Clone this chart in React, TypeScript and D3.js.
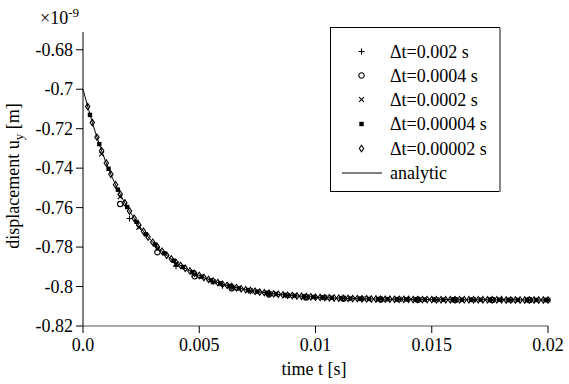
import React, { useEffect, useRef } from "react";
import * as d3 from "d3";

const xTicks = [0, 0.005, 0.01, 0.015, 0.02];
const xTickLabels = ["0.0", "0.005", "0.01", "0.015", "0.02"];
const yTicks = [-0.68, -0.7, -0.72, -0.74, -0.76, -0.78, -0.8, -0.82];
const yTickLabels = ["-0.68", "-0.7", "-0.72", "-0.74", "-0.76", "-0.78", "-0.8", "-0.82"];

// analytic solution (units of 1e-9 m), sampled every 0.0005 s
const analyticStart = 0;
const analyticStep = 0.0005;
const analyticValues = [
  -0.7, -0.7207, -0.7374, -0.7509, -0.7617, -0.7705, -0.7775, -0.7832, -0.7878, -0.7915,
  -0.7944, -0.7968, -0.7988, -0.8003, -0.8016, -0.8026, -0.8034, -0.8041, -0.8046, -0.805,
  -0.8054, -0.8057, -0.8059, -0.8061, -0.8062, -0.8063, -0.8064, -0.8065, -0.8065, -0.8066,
  -0.8066, -0.8066, -0.8067, -0.8067, -0.8067, -0.8067, -0.8067, -0.8067, -0.8068, -0.8068,
  -0.8068,
];

const plusStart = 0.002;
const plusStep = 0.002;
const plusValues = [-0.7655, -0.7897, -0.7996, -0.8038, -0.8056, -0.8063, -0.8066, -0.8067, -0.8067, -0.8068];

const circleStart = 0.0016;
const circleStep = 0.0016;
const circleValues = [-0.7582, -0.7826, -0.7948, -0.8009, -0.804, -0.8055, -0.8062, -0.8066, -0.8067, -0.8068, -0.8068, -0.8068];

const crossStart = 0.0008;
const crossStep = 0.0008;
const crossValues = [
  -0.7328, -0.7545, -0.77, -0.7808, -0.7885, -0.7938, -0.7976, -0.8003, -0.8022, -0.8036,
  -0.8045, -0.8052, -0.8057, -0.806, -0.8062, -0.8064, -0.8065, -0.8066, -0.8067, -0.8067,
  -0.8067, -0.8067, -0.8068, -0.8068, -0.8068,
];

const squareStart = 0.0003;
const squareStep = 0.0004;
const squareValues = [
  -0.713, -0.7278, -0.7403, -0.7509, -0.7597, -0.7672, -0.7735, -0.7787, -0.7832, -0.7869,
  -0.7901, -0.7927, -0.795, -0.7968, -0.7984, -0.7997, -0.8009, -0.8018, -0.8026, -0.8032,
  -0.8038, -0.8043, -0.8047, -0.805, -0.8053, -0.8055, -0.8057, -0.8059, -0.8061, -0.8062,
  -0.8063, -0.8064, -0.8064, -0.8065, -0.8065, -0.8066, -0.8066, -0.8066, -0.8067, -0.8067,
  -0.8067, -0.8067, -0.8067, -0.8067, -0.8067, -0.8068, -0.8068, -0.8068, -0.8068, -0.8068,
];

const diamondStart = 0.0002;
const diamondStep = 0.0002;
const diamondValues = [
  -0.7088, -0.7169, -0.7243, -0.7312, -0.7374, -0.7431, -0.7484, -0.7532, -0.7576, -0.7617,
  -0.7654, -0.7688, -0.772, -0.7749, -0.7775, -0.7799, -0.7821, -0.7842, -0.786, -0.7878,
  -0.7893, -0.7908, -0.7921, -0.7933, -0.7944, -0.7954, -0.7964, -0.7972, -0.798, -0.7988,
  -0.7994, -0.8, -0.8006, -0.8011, -0.8016, -0.802, -0.8024, -0.8028, -0.8031, -0.8034,
  -0.8037, -0.8039, -0.8042, -0.8044, -0.8046, -0.8048, -0.8049, -0.8051, -0.8052, -0.8054,
  -0.8055, -0.8056, -0.8057, -0.8058, -0.8059, -0.8059, -0.806, -0.8061, -0.8061, -0.8062,
  -0.8062, -0.8063, -0.8063, -0.8064, -0.8064, -0.8064, -0.8065, -0.8065, -0.8065, -0.8065,
  -0.8066, -0.8066, -0.8066, -0.8066, -0.8066, -0.8067, -0.8067, -0.8067, -0.8067, -0.8067,
  -0.8067, -0.8067, -0.8067, -0.8067, -0.8067, -0.8067, -0.8067, -0.8067, -0.8067, -0.8067,
  -0.8068, -0.8068, -0.8068, -0.8068, -0.8068, -0.8068, -0.8068, -0.8068, -0.8068, -0.8068,
];

const legendLabels = ["\u0394t=0.002 s", "\u0394t=0.0004 s", "\u0394t=0.0002 s", "\u0394t=0.00004 s", "\u0394t=0.00002 s", "analytic"];

type Pt = { t: number; v: number };
type Kind = "plus" | "circle" | "cross" | "square" | "diamond";
const toPts = (start: number, step: number, vals: number[]): Pt[] =>
  vals.map((v, i) => ({ t: start + i * step, v }));

const FONT = "Liberation Serif";
const FS = 18;

function markerPath(kind: Kind, cx: number, cy: number): string {
  if (kind === "plus") return `M${cx - 3},${cy}H${cx + 3}M${cx},${cy - 3}V${cy + 3}`;
  if (kind === "cross")
    return `M${cx - 2.4},${cy - 2.4}L${cx + 2.4},${cy + 2.4}M${cx - 2.4},${cy + 2.4}L${cx + 2.4},${cy - 2.4}`;
  if (kind === "square") return `M${cx - 2.2},${cy - 2.2}h4.4v4.4h-4.4Z`;
  if (kind === "circle")
    return `M${cx - 2.7},${cy}a2.7,2.7 0 1,0 5.4,0a2.7,2.7 0 1,0 -5.4,0`;
  return `M${cx},${cy - 3.2}L${cx + 2.2},${cy}L${cx},${cy + 3.2}L${cx - 2.2},${cy}Z`;
}

export default function App() {
  const ref = useRef<SVGSVGElement | null>(null);

  useEffect(() => {
    const svg = d3.select(ref.current);
    svg.selectAll("*").remove();
    svg.attr("font-family", FONT).attr("font-size", FS);

    const xs = d3.scaleLinear().domain([0, 0.02]).range([83, 548]);
    const ys = d3.scaleLinear().domain([-0.82, -0.671]).range([326, 32]);

    // axes
    svg.append("line").attr("x1", 83).attr("x2", 83).attr("y1", ys(-0.671)).attr("y2", ys(-0.82)).attr("stroke", "#000");
    svg.append("line").attr("x1", xs(0)).attr("x2", xs(0.02)).attr("y1", ys(-0.82)).attr("y2", ys(-0.82)).attr("stroke", "#555").attr("stroke-width", 1.2);

    yTicks.forEach((t, i) => {
      svg.append("line").attr("x1", 76).attr("x2", 83).attr("y1", ys(t)).attr("y2", ys(t)).attr("stroke", "#000");
      svg.append("text").attr("x", 73).attr("y", ys(t) + 6).attr("text-anchor", "end")
        .style("font-family", FONT).style("font-size", FS + "px").text(yTickLabels[i]);
    });
    xTicks.forEach((t, i) => {
      svg.append("line").attr("x1", xs(t)).attr("x2", xs(t)).attr("y1", 326).attr("y2", 333).attr("stroke", "#000");
      svg.append("text").attr("x", xs(t)).attr("y", 351).attr("text-anchor", "middle")
        .style("font-family", FONT).style("font-size", FS + "px").text(xTickLabels[i]);
    });

    svg.append("text").attr("x", 314).attr("y", 375).attr("text-anchor", "middle")
      .style("font-family", FONT).style("font-size", FS + "px").text("time t [s]");

    const yl = svg.append("text").attr("transform", "translate(19,176) rotate(-90)").attr("text-anchor", "middle")
      .style("font-family", FONT).style("font-size", FS + "px");
    yl.append("tspan").text("displacement u");
    yl.append("tspan").attr("dy", 4).style("font-size", "13px").text("y");
    yl.append("tspan").attr("dy", -4).text(" [m]");

    const ex = svg.append("text").attr("x", 40).attr("y", 24).style("font-family", FONT).style("font-size", FS + "px");
    ex.append("tspan").text("×10");
    ex.append("tspan").attr("dy", -7).style("font-size", "13px").text("-9");

    // analytic line
    const line = d3.line<Pt>().x((d) => xs(d.t)).y((d) => ys(d.v)).curve(d3.curveMonotoneX);
    svg.append("path").attr("d", line(toPts(analyticStart, analyticStep, analyticValues)) || "")
      .attr("fill", "none").attr("stroke", "#000").attr("stroke-width", 1);

    // markers
    const series: { kind: Kind; pts: Pt[] }[] = [
      { kind: "diamond", pts: toPts(diamondStart, diamondStep, diamondValues) },
      { kind: "square", pts: toPts(squareStart, squareStep, squareValues) },
      { kind: "cross", pts: toPts(crossStart, crossStep, crossValues) },
      { kind: "circle", pts: toPts(circleStart, circleStep, circleValues) },
      { kind: "plus", pts: toPts(plusStart, plusStep, plusValues) },
    ];
    series.forEach((s) => {
      svg.append("g").selectAll("path").data(s.pts).enter().append("path")
        .attr("d", (p) => markerPath(s.kind, xs(p.t), ys(p.v)))
        .attr("fill", s.kind === "square" ? "#000" : "none")
        .attr("stroke", s.kind === "square" ? "none" : "#000")
        .attr("stroke-width", 1.1);
    });

    // legend
    svg.append("rect").attr("x", 330.5).attr("y", 27.5).attr("width", 169).attr("height", 164)
      .attr("fill", "#fff").attr("stroke", "#000");
    svg.append("line").attr("x1", 500).attr("x2", 500).attr("y1", 28).attr("y2", 192).attr("stroke", "#888").attr("stroke-width", 2);
    const rowY = [51.5, 75.5, 99.5, 124, 148.5, 173];
    const legendKinds: Kind[] = ["plus", "circle", "cross", "square", "diamond"];
    legendKinds.forEach((k, i) => {
      svg.append("path").attr("d", markerPath(k, 361.5, rowY[i]))
        .attr("fill", k === "square" ? "#000" : "none")
        .attr("stroke", k === "square" ? "none" : "#000").attr("stroke-width", 1.1);
    });
    svg.append("line").attr("x1", 342).attr("x2", 382).attr("y1", rowY[5]).attr("y2", rowY[5]).attr("stroke", "#000");
    legendLabels.forEach((l, i) => {
      svg.append("text").attr("x", 390).attr("y", rowY[i] + 6)
        .style("font-family", FONT).style("font-size", FS + "px").text(l);
    });
  }, []);

  return (
    <svg
      ref={ref}
      width={569}
      height={384}
      style={{ position: "absolute", left: 0, top: 0, background: "#fff", display: "block" }}
    />
  );
}
